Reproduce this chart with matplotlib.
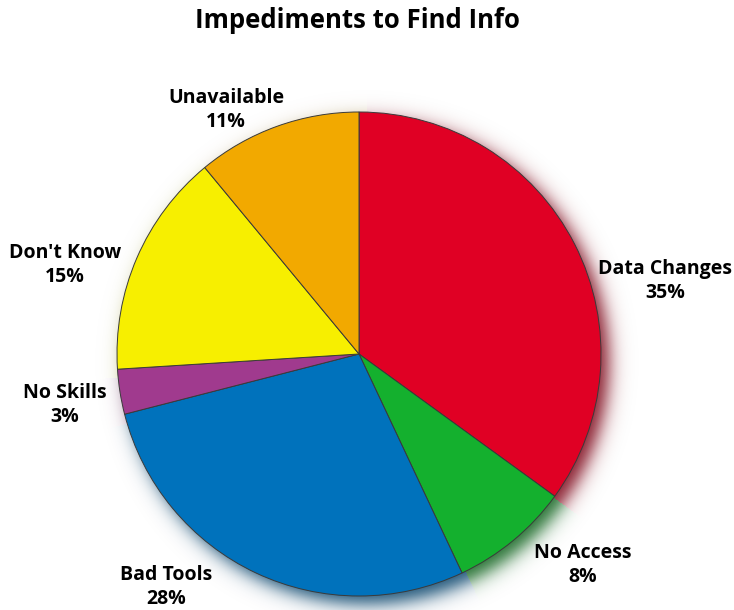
import numpy as np
import matplotlib.pyplot as plt
from matplotlib.colors import to_rgb

categories = ["Data Changes", "No Access", "Bad Tools", "No Skills", "Don't Know", "Unavailable"]
shares = [35, 8, 28, 3, 15, 11]
colors = ["#E00024", "#14B02E", "#0072BC", "#A03A8E", "#F7EF00", "#F2A900"]

# label anchor points (figure pixel coords, origin top-left)
label_xy = [(665, 281), (583, 565), (166, 587), (65, 405), (65, 265), (226, 110)]

W, H = 734, 610
cx, cy, R = 359, H - 354, 242

plt.rcParams['font.family'] = ['Open Sans', 'DejaVu Sans']

fig = plt.figure(figsize=(W / 100, H / 100), dpi=100)
ax = fig.add_axes([0, 0, 1, 1])
ax.set_xlim(0, W)
ax.set_ylim(0, H)
ax.set_aspect('equal')
ax.axis('off')

# soft coloured drop shadow, offset down-right
dx, dy, blur = 8, -8, 11
xx, yy = np.meshgrid(np.arange(W) + 0.5, np.arange(H) + 0.5)
sx, sy = xx - (cx + dx), yy - (cy + dy)
dist = np.hypot(sx, sy)
theta = np.degrees(np.arctan2(sy, sx))
frac = ((90 - theta) % 360) / 360
bounds = np.cumsum(shares) / np.sum(shares)
idx = np.clip(np.searchsorted(bounds, frac, side='right'), 0, len(shares) - 1)
rgb = np.array([to_rgb(c) for c in colors]) * 0.55
shadow = np.zeros((H, W, 4))
shadow[..., :3] = rgb[idx]
shadow[..., 3] = 0.9 * 0.5 * (1 - np.tanh((dist - R) / blur))
ax.imshow(shadow, extent=(0, W, 0, H), origin='lower', zorder=0, interpolation='bilinear')

ax.pie(shares, colors=colors, startangle=90, counterclock=False,
       center=(cx, cy), radius=R, frame=True,
       wedgeprops=dict(edgecolor='#3a3a3a', linewidth=0.7))
ax.set_xlim(0, W)
ax.set_ylim(0, H)
ax.axis('off')

for name, pct, (lx, ly) in zip(categories, shares, label_xy):
    ax.text(lx, H - ly, f"{name}\n{pct}%", ha='center', va='center',
            fontsize=14, fontweight='bold', linespacing=1.25)

fig.text(357 / W, 1 - 20 / H, "Impediments to Find Info", ha='center', va='center',
         fontsize=18.5, fontweight='bold')

fig.savefig("out.png", dpi=100)
